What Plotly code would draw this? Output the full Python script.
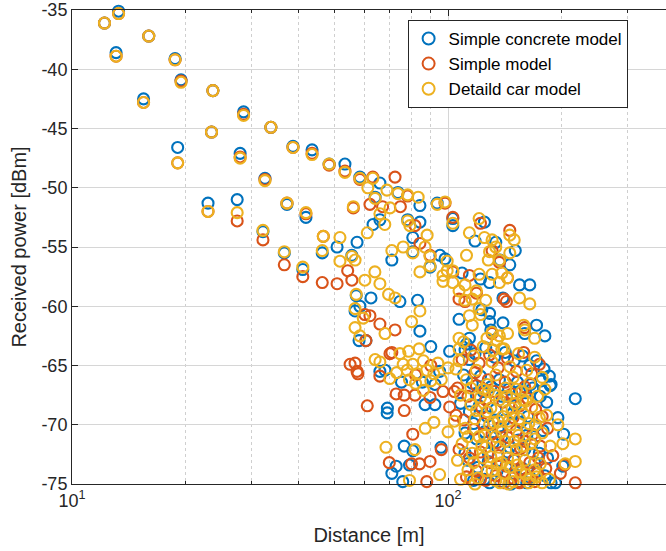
import plotly.graph_objects as go

# Received power versus distance for three vehicle models (distance in m, power in dBm)
concrete = [
    (12.2, -36.1), (13.3, -35.1), (13.1, -38.6), (16.0, -37.2), (18.8, -39.1), (19.5, -40.9),
    (15.5, -42.5), (23.7, -41.8), (19.1, -46.6), (23.5, -45.3), (28.6, -43.6), (28.0, -47.1),
    (33.8, -44.9), (32.6, -49.2), (23.0, -51.3), (27.5, -51.0), (32.2, -53.7), (37.3, -51.4),
    (38.7, -46.5), (43.5, -46.8), (41.9, -52.5), (36.7, -55.5), (41.1, -56.9), (46.3, -55.5),
    (50.7, -55.0), (48.3, -48.0),
    (53.2, -48.0), (58.3, -49.1), (65.9, -49.6), (64.0, -50.8), (73.6, -50.4), (84.2, -51.5),
    (93.6, -51.3), (78.1, -52.7), (84.2, -52.9), (103, -53.2), (80.6, -54.2), (63.2, -53.1),
    (65.9, -52.7), (57.3, -54.6), (55.5, -55.7), (70.9, -56.1), (80.6, -55.4), (95.2, -55.7),
    (89.6, -56.7),
    (103, -52.6), (125, -52.9), (118, -54.5), (134, -54.6), (151, -55.3), (137.5, -56.1),
    (146, -56.5), (98.2, -56.0), (109, -57.2), (122, -57.7), (129, -58.0), (123, -60.3),
    (129, -60.6), (140, -59.3), (155, -58.2), (165, -58.2), (107, -61.1), (129, -61.3),
    (140, -61.4), (160, -62.3), (172, -61.6), (181, -62.5), (130, -62.0), (114, -62.7),
    (111, -63.7), (114, -64.5), (101, -63.8), (90, -63.4), (83, -59.5), (74.5, -59.6),
    (62.4, -59.3), (58.3, -60.0), (56.6, -60.4), (58.0, -62.9), (60.5, -62.9), (65.9, -65.5),
    (68.0, -65.4), (68.9, -69.0), (84.2, -62.1), (57.0, -59.1),
    (95, -65.5), (75.2, -66.4), (85.5, -66.4), (92.3, -66.6), (69.0, -68.6), (86.9, -68.3),
    (92.3, -68.3), (76.5, -71.8), (80.6, -72.2), (95.8, -71.9), (111, -72.4), (70.9, -74.1),
    (72.8, -73.5), (79.0, -73.4), (75.8, -74.8), (129, -74.9), (188, -74.9),
    (218, -67.8), (196, -69.4), (203, -70.8), (202, -73.5), (193, -74.9), (188, -66.6),
    (143, -67.6), (155, -67.2), (166, -66.6), (177, -66.3), (187, -66.7),
    (112, -63.2), (118, -64.0), (126, -63.5), (133, -64.3), (142, -63.9), (150, -64.6),
    (158, -64.2), (165, -65.0), (172, -64.6), (180, -65.3), (186, -65.9),
    (110, -65.8), (116, -66.5), (122, -65.9), (130, -66.8), (137, -66.2), (145, -67.0),
    (153, -66.4), (161, -67.3), (168, -66.9), (176, -67.6), (183, -68.1),
    (108, -68.2), (114, -68.9), (121, -68.4), (127, -69.3), (134, -68.7), (141, -69.6),
    (149, -69.0), (156, -69.8), (163, -69.3), (171, -70.1), (179, -70.5),
    (111, -70.7), (119, -71.2), (125, -70.6), (132, -71.5), (139, -71.0), (146, -71.9),
    (154, -71.3), (160, -72.1), (167, -71.6), (175, -72.4), (184, -72.8),
    (113, -73.0), (120, -73.6), (128, -73.1), (135, -73.9), (143, -73.4), (151, -74.2),
    (158, -73.7), (166, -74.5), (173, -74.0), (181, -74.3),
    (117, -74.7), (138, -74.8), (147, -75.0), (162, -74.9),
    (124, -67.2), (139, -67.6), (151, -68.4), (117, -69.9), (136, -70.3), (162, -70.9),
    (128, -72.4), (150, -73.0), (170, -73.2), (125, -74.6), (155, -74.8), (119, -67.5),
    (144, -72.3),
]

simple = [
    (12.2, -36.1), (13.3, -35.3), (13.1, -38.9), (16.0, -37.2), (18.8, -39.2), (19.5, -41.0),
    (15.5, -42.8), (23.7, -41.8), (19.1, -47.9), (23.5, -45.3), (28.6, -43.8), (28.0, -47.4),
    (33.8, -44.9), (32.6, -49.3), (23.0, -52.0), (27.5, -52.8), (32.2, -54.4), (37.3, -51.3),
    (38.7, -46.6), (43.5, -47.1), (41.9, -52.2), (36.7, -56.5), (41.1, -57.5), (46.3, -58.0),
    (50.7, -58.1), (55.5, -57.8), (48.3, -48.1), (46.6, -54.1),
    (63.1, -49.1), (72.3, -49.1), (62.0, -51.4), (67.0, -51.6), (74.7, -51.6), (81.7, -53.2),
    (84.2, -54.7), (89.6, -55.7), (54.1, -57.0), (56.0, -51.7), (78.1, -50.7), (58.3, -49.3),
    (53.2, -48.6), (98.2, -51.3), (103, -52.5),
    (122, -53.0), (131, -55.3), (146, -53.6), (114, -57.4), (107, -59.4), (141, -59.4),
    (143, -59.6), (131, -62.3), (144, -57.6), (111, -59.6), (119, -58.9), (137, -56.3),
    (160, -61.8), (103, -57.1),
    (62.0, -60.8), (65.9, -61.5), (60.5, -62.9), (56.6, -64.8), (57.6, -65.7), (65.9, -65.9),
    (61.0, -68.4), (60.1, -60.7), (72.3, -62.0), (57.3, -65.5), (70.9, -63.9), (70.1, -64.0),
    (54.9, -64.9),
    (72.8, -67.4), (76.5, -67.5), (81.7, -67.5), (89.6, -67.7), (97, -67.2), (104, -67.2),
    (76.5, -68.8), (101, -68.5), (105, -69.2), (80.6, -70.8), (96, -72.1), (80, -73.3),
    (84, -73.3), (89.6, -73.1), (87.8, -74.8), (69.8, -73.2), (115, -74.6), (122, -74.6),
    (154, -74.8), (218, -74.9), (199, -74.1), (204, -73.4), (82, -65.8), (90, -65.0),
    (109, -64.5), (115, -63.7), (121, -64.8), (129, -64.1), (136, -65.2), (144, -64.4),
    (152, -65.5), (159, -63.9), (167, -65.7), (175, -64.9),
    (106, -66.9), (113, -67.6), (119, -66.7), (126, -67.9), (133, -67.2), (140, -68.1),
    (148, -67.4), (155, -68.4), (163, -67.8), (171, -68.7), (178, -69.3),
    (110, -69.6), (117, -70.4), (124, -69.9), (131, -70.8), (138, -70.2), (145, -71.1),
    (152, -70.5), (160, -71.4), (168, -70.8), (176, -71.8),
    (107, -72.1), (114, -72.8), (122, -72.3), (129, -73.2), (136, -72.6), (143, -73.5),
    (150, -72.9), (157, -73.8), (165, -73.2), (173, -74.1), (182, -73.7),
    (112, -74.4), (126, -74.7), (134, -74.3), (141, -74.9), (148, -74.5), (155, -74.9),
    (170, -74.8), (190, -72.6),
    (118, -65.6), (142, -66.4), (160, -66.8), (123, -68.6), (149, -69.4), (135, -71.5),
    (156, -72.0), (119, -73.9), (162, -74.5), (128, -66.2), (174, -72.8), (184, -70.3),
]

detailed_car = [
    (12.2, -36.1), (13.3, -35.3), (13.1, -38.9), (16.0, -37.2), (18.8, -39.2), (19.5, -41.1),
    (15.5, -42.8), (23.7, -41.8), (19.1, -47.9), (23.5, -45.3), (28.6, -43.9), (28.0, -47.5),
    (33.8, -44.9), (32.6, -49.4), (23.0, -52.0), (27.5, -52.1), (32.2, -53.6), (37.3, -51.3),
    (38.7, -46.6), (43.5, -47.2), (41.9, -52.1), (36.7, -55.4), (41.1, -56.7), (46.3, -55.3),
    (46.6, -54.1), (48.3, -48.0), (51.6, -56.2),
    (53.2, -48.7), (58.3, -49.2), (63.1, -49.2), (61.2, -50.0), (68.8, -50.2), (64.0, -50.9),
    (73.6, -50.5), (78.1, -50.6), (83.3, -50.8), (98.2, -51.2), (93.6, -51.4), (56.0, -51.6),
    (70.1, -51.7), (65.9, -52.2), (67.9, -53.1), (78.1, -52.8), (79.2, -53.2), (88.0, -54.0),
    (61.0, -53.8), (51.6, -54.2), (55.5, -55.8), (56.6, -56.1), (70.9, -55.3), (76.0, -55.0),
    (86.9, -55.0), (80.6, -55.5), (89.6, -55.8), (89.6, -56.6), (99.5, -57.0), (84.2, -57.1),
    (63.9, -57.1),
    (103, -53.0), (121, -52.6), (114, -53.8), (125, -54.2), (131, -54.4), (146, -54.0),
    (150, -54.4), (134, -55.0), (129, -55.4), (146, -55.5), (112, -55.7), (128, -56.1),
    (137, -56.1), (99.5, -56.2), (103, -57.0), (97, -57.4), (121, -57.3), (131, -57.3),
    (139, -57.2), (144, -57.6), (137, -58.0), (97, -57.9), (103, -58.0), (107, -58.7),
    (111, -58.2), (119, -58.7), (116, -59.4), (111, -59.5), (121, -60.2), (126, -59.5),
    (122, -60.7), (155, -59.3), (165, -59.8), (114, -60.8), (116, -61.6), (131, -62.2),
    (144, -62.3), (159, -61.6), (170, -62.7), (107, -62.7), (127, -62.7), (137, -62.5),
    (160, -62.0), (135, -62.9), (132, -63.7), (141, -63.6), (107, -63.6), (107, -64.6),
    (60.1, -57.8), (65.9, -58.1), (57.0, -59.0), (56.6, -60.2), (56.6, -61.8), (58.3, -62.5),
    (68.0, -62.3), (64.0, -64.5), (69.5, -59.0), (72.3, -59.3), (80.0, -61.3), (84.2, -60.4),
    (74.5, -64.0), (65.9, -64.7), (78.6, -63.8), (83.8, -63.6), (59.5, -61.0),
    (73.0, -65.6), (77.9, -65.4), (82.7, -65.7), (87.8, -65.4), (91.7, -65.7), (100, -65.2),
    (82.0, -66.5), (76.0, -64.9), (86.0, -64.6), (94.0, -64.8), (80.6, -64.9), (90.0, -66.3),
    (70.0, -66.1), (79.0, -66.2), (96, -66.2), (86, -67.1), (68.4, -71.9), (81.7, -72.1),
    (87, -70.3), (91.7, -69.8), (79, -74.7), (137.5, -74.9), (165, -74.6), (178, -74.9),
    (218, -71.2), (218, -73.1), (205, -73.3), (196, -70.0), (202, -71.6), (100, -70.6),
    (95, -74.2),
    (110, -63.0), (117, -64.2), (124, -63.4), (131, -64.7), (139, -63.6), (146, -65.1),
    (154, -64.0), (162, -65.4), (170, -64.3), (178, -66.0),
    (105, -65.3), (112, -66.2), (119, -65.4), (127, -66.6), (134, -65.8), (142, -66.9),
    (149, -66.0), (157, -67.2), (165, -66.5), (173, -67.6), (181, -67.0),
    (108, -67.5), (115, -68.3), (122, -67.7), (130, -68.6), (137, -67.9), (144, -68.8),
    (151, -68.2), (159, -69.1), (167, -68.5), (175, -69.4),
    (104, -69.7), (111, -70.3), (118, -69.5), (125, -70.9), (132, -69.8), (139, -70.6),
    (147, -70.0), (154, -70.9), (162, -70.3), (170, -71.2), (178, -70.7),
    (109, -71.6), (116, -72.4), (123, -71.7), (130, -72.7), (137, -71.9), (144, -72.8),
    (152, -72.1), (160, -73.0), (168, -72.4), (176, -73.3),
    (113, -73.8), (120, -74.5), (127, -73.9), (134, -74.7), (141, -74.1), (149, -74.8),
    (156, -74.0), (164, -74.9), (172, -74.4), (186, -74.6),
    (128, -67.2), (140, -69.3), (150, -71.4), (135, -73.3), (121, -71.0), (158, -67.9),
    (115, -66.9), (124, -67.0), (133, -67.5), (143, -67.6), (152, -67.0), (161, -68.0),
    (119, -68.8), (127, -68.9), (136, -69.7), (145, -69.7), (155, -69.5), (164, -69.9),
    (113, -71.0), (126, -71.9), (134, -71.0), (142, -71.4), (158, -71.8), (166, -71.6),
    (117, -73.2), (124, -72.8), (131, -73.9), (139, -73.2), (146, -73.6), (153, -73.4),
    (161, -74.2), (170, -73.8), (118, -75.0), (145, -75.0), (129, -70.0), (148, -68.6),
    (171, -70.0), (183, -69.2), (187, -71.8), (106, -73.0), (108, -74.6),
]

series_names = ["Simple concrete model", "Simple model", "Detaild car model"]
series_colors = ["#0072BD", "#D95319", "#EDB120"]

y_ticks = [-75, -70, -65, -60, -55, -50, -45, -40, -35]
y_tick_labels = ["-75", "-70", "-65", "-60", "-55", "-50", "-45", "-40", "-35"]
x_ticks = [10, 100]
x_tick_labels = ["10<sup>1</sup>", "10<sup>2</sup>"]
x_minor_ticks = [20, 30, 40, 50, 60, 70, 80, 90, 200, 300]

FONT = "Liberation Sans, Arial, Helvetica, sans-serif"
AXIS_COLOR = "#262626"

fig = go.Figure()
for name, color, pts in zip(series_names, series_colors, [concrete, simple, detailed_car]):
    d, p = zip(*pts)
    fig.add_trace(go.Scatter(
        x=list(d), y=list(p), mode="markers", name=name, cliponaxis=False,
        marker=dict(symbol="circle-open", size=11, color=color, line=dict(width=2.1)),
    ))

fig.update_layout(
    width=666, height=551,
    margin=dict(l=72, r=0, t=10, b=67),
    paper_bgcolor="white", plot_bgcolor="white",
    font=dict(family=FONT, color=AXIS_COLOR),
    showlegend=True,
    legend=dict(
        x=0.565, y=0.979, xanchor="left", yanchor="top",
        bgcolor="white", bordercolor=AXIS_COLOR, borderwidth=1,
        font=dict(size=17, family=FONT, color="#000000"),
        itemsizing="constant",
    ),
)

fig.update_xaxes(
    type="log", range=[1, 2.5798],
    tickmode="array", tickvals=x_ticks, ticktext=x_tick_labels,
    ticks="inside", ticklen=6, tickcolor=AXIS_COLOR,
    tickfont=dict(size=18, color=AXIS_COLOR),
    showline=True, linecolor=AXIS_COLOR, linewidth=1, mirror="ticks",
    showgrid=True, gridcolor="#d6d6d6", gridwidth=1,
    minor=dict(tickmode="array", tickvals=x_minor_ticks, ticks="inside", ticklen=3,
               tickcolor=AXIS_COLOR, showgrid=True, gridcolor="#cfcfcf",
               griddash="dot", gridwidth=1),
    zeroline=False,
    title=dict(text="Distance [m]", font=dict(size=20, color=AXIS_COLOR), standoff=18),
)

fig.update_yaxes(
    range=[-75, -35],
    tickmode="array", tickvals=y_ticks, ticktext=y_tick_labels,
    ticks="inside", ticklen=6, tickcolor=AXIS_COLOR,
    tickfont=dict(size=18, color=AXIS_COLOR),
    showline=True, linecolor=AXIS_COLOR, linewidth=1, mirror=False,
    showgrid=True, gridcolor="#d6d6d6", gridwidth=1,
    zeroline=False,
    title=dict(text="Received power [dBm]", font=dict(size=20, color=AXIS_COLOR), standoff=9),
)

fig.write_html("out.html")
